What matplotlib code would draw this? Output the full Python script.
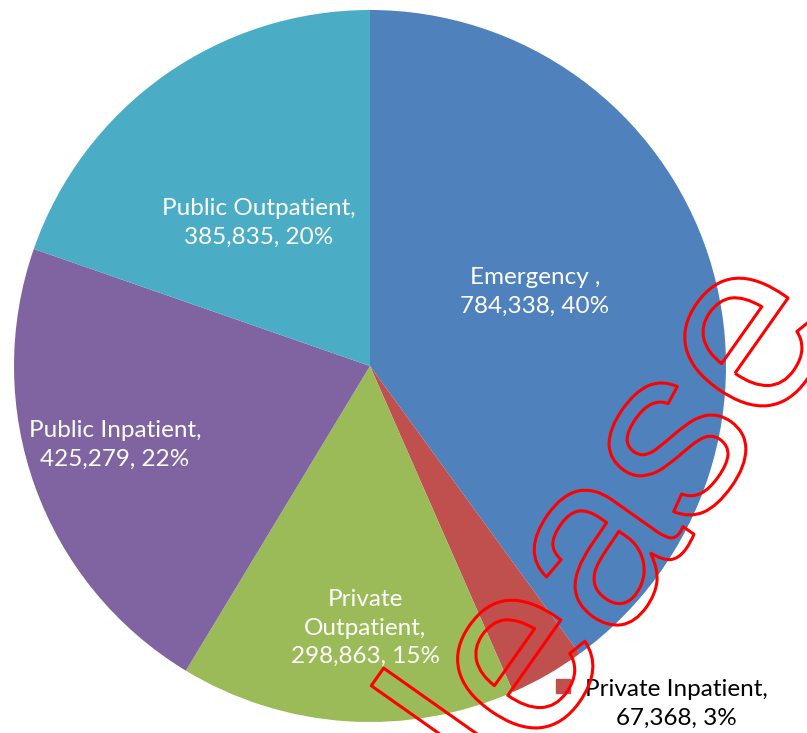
import matplotlib
matplotlib.use("Agg")
import matplotlib.pyplot as plt
import matplotlib.patheffects as pe

labels = ["Emergency ", "Private Inpatient", "Private Outpatient",
          "Public Inpatient", "Public Outpatient"]
values = [784338, 67368, 298863, 425279, 385835]
colors = ["#4F81BD", "#C0504D", "#9BBB59", "#8064A2", "#4BACC6"]

total = sum(values)
pcts = [round(v * 100 / total) for v in values]

W, H = 807, 733
R = 356.0
cx, cy = 370.0, 366.0

fig = plt.figure(figsize=(W / 100, H / 100), dpi=100)
ax = fig.add_axes([0, 0, 1, 1])
ax.pie(values, colors=colors, startangle=90, counterclock=False,
       wedgeprops=dict(linewidth=0))
ax.set_xlim(-cx / R, (W - cx) / R)
ax.set_ylim(-(H - cy) / R, cy / R)
ax.set_aspect("equal")
ax.axis("off")

font = "Lato"
fs = 17.5
ls = 1.42


def lab(i, split_name=False):
    name = labels[i]
    if split_name:
        name = name.replace(" ", "\n")
    return "%s,\n%s, %d%%" % (name, format(values[i], ","), pcts[i])


# inside labels (positions in pie radius units)
ax.text(0.463, 0.208, lab(0), color="white", fontsize=fs, family=font,
        ha="center", va="center", linespacing=ls)
ax.text(-0.312, 0.402, lab(4), color="white", fontsize=fs, family=font,
        ha="center", va="center", linespacing=ls)
ax.text(-0.716, -0.222, lab(3), color="white", fontsize=fs, family=font,
        ha="center", va="center", linespacing=ls)
ax.text(-0.014, -0.736, lab(2, True), color="white", fontsize=fs, family=font,
        ha="center", va="center", linespacing=ls)

# outside label for the small slice
ax.plot([(563 - cx) / R], [(cy - 686) / R], "s", color=colors[1],
        markersize=10, clip_on=False)
ax.text((676 - cx) / R, (cy - 704) / R,
        "%s,\n%s, %d%%" % (labels[1], format(values[1], ","), pcts[1]),
        color="black", fontsize=fs, family=font, ha="center", va="center",
        linespacing=ls)

# watermark
ax.text((585 - cx) / R, (cy - 690) / R, "Release", fontsize=176,
        family="Liberation Sans", color=(1, 1, 1, 0), rotation=54.8,
        rotation_mode="anchor", ha="center", va="baseline",
        path_effects=[pe.Stroke(linewidth=2.2, foreground="red")])

fig.savefig("out.png", dpi=100)
